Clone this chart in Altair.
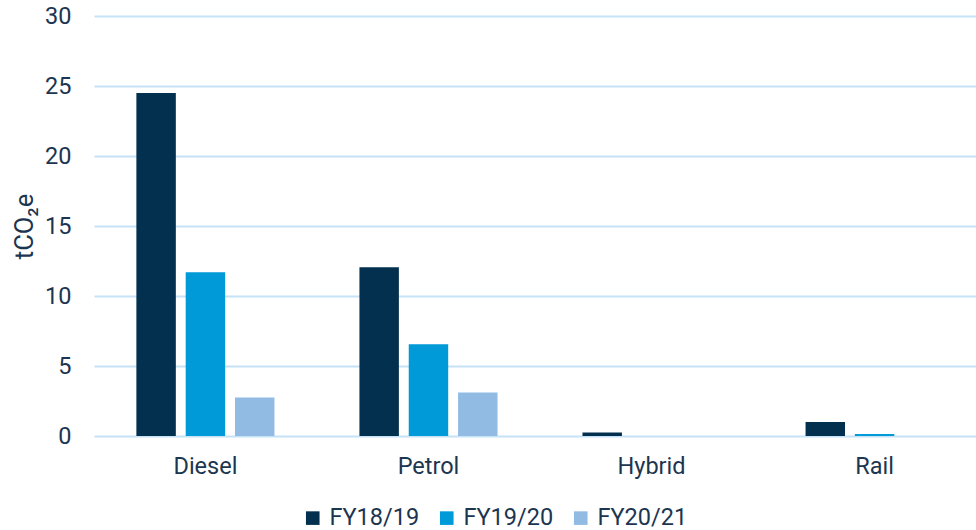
import altair as alt
import pandas as pd

categories = ["Diesel", "Petrol", "Hybrid", "Rail"]
years = ["FY18/19", "FY19/20", "FY20/21"]
fy1819 = [24.5, 12.05, 0.25, 1.0]
fy1920 = [11.7, 6.55, 0.0, 0.15]
fy2021 = [2.75, 3.1, 0.0, 0.0]
colors = ["#03304f", "#009ad9", "#92bbe4"]

rows = []
for i, c in enumerate(categories):
    for y, vals in zip(years, [fy1819, fy1920, fy2021]):
        rows.append({"category": c, "year": y, "value": vals[i]})
df = pd.DataFrame(rows)

text_color = "#1c3550"
font = "Roboto"
fs = 23.5

chart = alt.Chart(df).mark_bar().encode(
    x=alt.X("category:N", sort=categories,
            scale=alt.Scale(paddingInner=0.381, paddingOuter=0.19, range=[0, 892]),
            axis=alt.Axis(title=None, labelAngle=0, labelFontSize=fs, labelColor=text_color,
                          labelFont=font, labelPadding=18, ticks=False, domain=False)),
    xOffset=alt.XOffset("year:N", sort=years,
                        scale=alt.Scale(paddingInner=0.2, paddingOuter=0)),
    y=alt.Y("value:Q", scale=alt.Scale(domain=[0, 30]),
            axis=alt.Axis(title="tCO₂e", values=[0, 5, 10, 15, 20, 25, 30], titleFontSize=25.5,
                          titleFontWeight="normal", titleColor=text_color, titleFont=font,
                          labelFontSize=fs, labelColor=text_color, labelFont=font,
                          labelPadding=23, ticks=False, domain=False, titlePadding=7,
                          gridColor="#c5e2f7", gridWidth=2)),
    color=alt.Color("year:N", sort=years, scale=alt.Scale(domain=years, range=colors),
                    legend=alt.Legend(title=None, orient="none", direction="horizontal",
                                      legendX=207, legendY=490, symbolType="square",
                                      symbolSize=185, labelFontSize=fs, labelColor=text_color,
                                      labelFont=font, columnPadding=15, symbolStrokeWidth=0,
                                      labelOffset=5)),
).properties(
    width=882, height=420,
    background="white",
    autosize=alt.AutoSizeParams(type="none"),
    padding={"left": 94, "top": 16, "right": 0, "bottom": 94},
).configure_view(stroke=None)

chart.save("out.html", embed_options={"renderer": "svg", "actions": False})
